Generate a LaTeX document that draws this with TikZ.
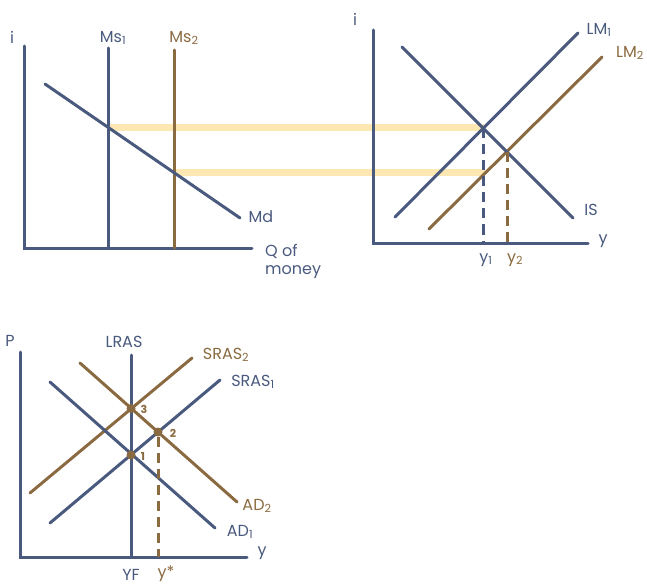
\documentclass[tikz,border=0pt]{standalone}
\usepackage{fontspec}
\setmainfont{Poppins}
\usetikzlibrary{positioning,calc}
\definecolor{slate}{HTML}{4A5A7E}
\definecolor{bronze}{HTML}{8A6A40}
\definecolor{butter}{HTML}{FDE8B4}

\begin{document}
\begin{tikzpicture}[x=1pt,y=-1pt,
    axis/.style={slate, line width=3pt, line cap=round},
    curve/.style={line width=3pt, line cap=round},
    guide/.style={line width=3pt, dash pattern=on 10pt off 6pt},
    band/.style={butter, line width=7pt},
    lbl/.style={font=\fontsize{16}{18}\selectfont, inner sep=1pt},
    num/.style={font=\fontsize{11}{13}\selectfont\bfseries, inner sep=1pt},
    dot/.style={circle, fill=bronze, inner sep=0pt, minimum size=9pt}]
\useasboundingbox (0,0) rectangle (647,585);

% Money market
\coordinate (mo) at (24,248);
\coordinate (mtop) at (24,46);
\coordinate (mend) at (252,248);
\coordinate (ms1top) at (108,48);
\coordinate (ms1bot) at (108,248);
\coordinate (ms2top) at (174,50);
\coordinate (ms2bot) at (174,248);
\coordinate (mdtop) at (45,84);
\coordinate (mdbot) at (240,218);
\coordinate (eq1) at (108,127.5);
\coordinate (eq2) at (174,173);

% IS-LM
\coordinate (lo) at (373,243);
\coordinate (ltop) at (373,30);
\coordinate (lend) at (588,243);
\coordinate (lm1a) at (395,217);
\coordinate (lm1b) at (578,33);
\coordinate (lm2a) at (429,229);
\coordinate (lm2b) at (602,57);
\coordinate (isa) at (402,47);
\coordinate (isb) at (573,218);
\coordinate (cross1) at (483.5,128.5);
\coordinate (cross2) at (507,152);
\coordinate (bandend) at (485,173);

% AS-AD
\coordinate (ao) at (20,557);
\coordinate (atop) at (20,352);
\coordinate (aend) at (247,557);
\coordinate (lrastop) at (131,355);
\coordinate (lrasbot) at (131,557);
\coordinate (sras1a) at (50,523);
\coordinate (sras1b) at (220,380);
\coordinate (sras2a) at (30,493);
\coordinate (sras2b) at (192,358);
\coordinate (ad1a) at (50,382);
\coordinate (ad1b) at (215,528);
\coordinate (ad2a) at (80,363);
\coordinate (ad2b) at (237,502);

% Yellow links
\draw[band] (eq1) -- (cross1 |- eq1);
\draw[band] (eq2) -- (bandend);

% Money market
\draw[axis] (mtop) -- (mo) -- (mend);
\draw[curve, slate] (ms1top) -- (ms1bot);
\draw[curve, bronze] (ms2top) -- (ms2bot);
\draw[curve, slate] (mdtop) -- (mdbot);
\node[lbl, slate] (iM) at (12,37) {i};
\node[lbl, slate] (ms1) at (113,38) {Ms\textsubscript{1}};
\node[lbl, bronze] (ms2) at (184,38) {Ms\textsubscript{2}};
\node[lbl, slate] (md) at (261,217) {Md};
\node[lbl, slate, anchor=west, align=left] (qm) at (264,261) {Q of\\money};

% IS-LM
\draw[axis] (ltop) -- (lo) -- (lend);
\draw[curve, slate] (lm1a) -- (lm1b);
\draw[curve, bronze] (lm2a) -- (lm2b);
\draw[curve, slate] (isa) -- (isb);
\draw[guide, slate] (cross1) -- (cross1 |- lo);
\draw[guide, bronze] (cross2) -- (cross2 |- lo);
\node[lbl, slate] (iL) at (355,19) {i};
\node[lbl, slate] (lm1) at (599,30) {LM\textsubscript{1}};
\node[lbl, bronze] (lm2) at (630,53) {LM\textsubscript{2}};
\node[lbl, slate] (is) at (591,210) {IS};
\node[lbl, slate] (yL) at (603,241) {y};
\node[lbl, slate] (y1) at (486,260) {y\textsubscript{1}};
\node[lbl, bronze] (y2) at (515,260) {y\textsubscript{2}};

% AS-AD
\draw[axis] (atop) -- (ao) -- (aend);
\draw[curve, slate] (lrastop) -- (lrasbot);
\draw[curve, bronze] (sras2a) -- (sras2b);
\draw[curve, bronze] (ad2a) -- (ad2b);
\draw[curve, slate] (sras1a) -- (sras1b);
\draw[curve, slate] (ad1a) -- (ad1b);
\node[dot] (p1) at (131,455) {};
\node[dot] (p2) at (158,432) {};
\node[dot] (p3) at (131,408.5) {};
\draw[guide, bronze] (p2) -- (p2 |- ao);
\node[lbl, slate] (pP) at (10,341) {P};
\node[lbl, slate] (lras) at (124,342) {LRAS};
\node[lbl, bronze] (sras2) at (226,355) {SRAS\textsubscript{2}};
\node[lbl, slate] (sras1) at (253,382) {SRAS\textsubscript{1}};
\node[lbl, bronze] (ad2) at (257,506) {AD\textsubscript{2}};
\node[lbl, slate] (ad1) at (240,532) {AD\textsubscript{1}};
\node[lbl, slate] (yA) at (262,553) {y};
\node[lbl, slate] (yf) at (131,575) {YF};
\node[lbl, bronze] (ystar) at (166,574) {y*};
\node[num, bronze] (n1) at (143,456) {1};
\node[num, bronze] (n2) at (173,433) {2};
\node[num, bronze] (n3) at (144,409) {3};
\end{tikzpicture}
\end{document}
